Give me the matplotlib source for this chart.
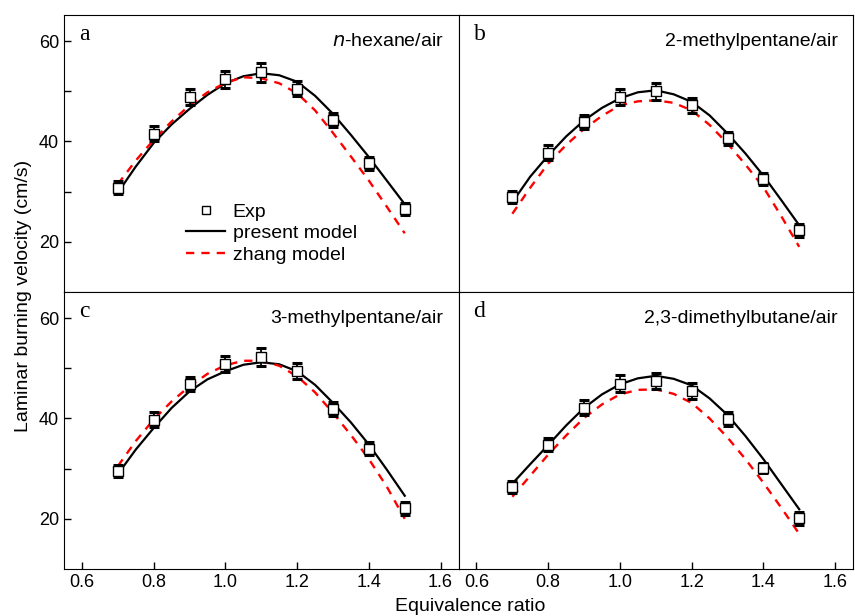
import numpy as np
import matplotlib
matplotlib.use("Agg")
import matplotlib.pyplot as plt

plt.rcParams['font.family'] = ['Liberation Sans', 'DejaVu Sans']

# experimental points
phi_exp = [0.7, 0.8, 0.9, 1.0, 1.1, 1.2, 1.3, 1.4, 1.5]
exp_a = [30.8, 41.5, 48.8, 52.4, 53.8, 50.5, 44.2, 35.7, 26.5]
exp_b = [28.9, 37.8, 43.9, 48.8, 50.0, 47.2, 40.6, 32.6, 22.3]
exp_c = [29.5, 39.7, 46.8, 50.9, 52.3, 49.4, 41.8, 34.0, 22.1]
exp_d = [26.4, 34.8, 42.1, 46.9, 47.4, 45.4, 39.8, 30.2, 20.1]
err_a = [1.3, 1.5, 1.6, 1.7, 1.9, 1.5, 1.4, 1.3, 1.2]
err_b = [1.2, 1.4, 1.4, 1.6, 1.7, 1.5, 1.3, 1.2, 1.3]
err_c = [1.2, 1.5, 1.4, 1.6, 1.8, 1.6, 1.4, 1.3, 1.3]
err_d = [1.2, 1.3, 1.5, 1.7, 1.6, 1.6, 1.4, 1.0, 1.3]

# model curves
phi_mod = [0.7, 0.75, 0.8, 0.85, 0.9, 0.95, 1.0, 1.05, 1.1, 1.15, 1.2, 1.25, 1.3, 1.35, 1.4, 1.45, 1.5]
present_a = [29.8, 35.0, 39.7, 43.4, 46.5, 49.3, 51.6, 53.0, 53.6, 53.2, 51.9, 49.1, 45.5, 41.3, 36.9, 32.2, 27.5]
zhang_a = [31.5, 36.2, 40.3, 44.0, 47.2, 49.8, 51.7, 52.8, 52.6, 51.6, 49.6, 46.2, 41.7, 37.0, 32.2, 27.0, 21.7]
present_b = [27.9, 33.0, 37.2, 41.0, 44.2, 46.7, 48.6, 49.8, 50.2, 49.4, 47.9, 45.2, 41.6, 37.6, 33.2, 28.3, 23.3]
zhang_b = [25.6, 30.8, 35.6, 39.3, 42.5, 45.1, 47.2, 48.0, 48.2, 47.7, 46.2, 43.3, 39.6, 35.4, 30.9, 25.1, 19.0]
present_c = [28.9, 33.8, 38.1, 42.1, 45.4, 47.8, 49.4, 50.7, 51.2, 50.8, 49.4, 46.7, 43.1, 39.2, 34.8, 29.8, 24.6]
zhang_c = [30.5, 35.5, 39.8, 43.4, 46.4, 48.9, 50.6, 51.5, 51.5, 50.5, 48.4, 45.2, 41.1, 36.7, 31.9, 26.4, 20.0]
present_d = [27.0, 30.9, 34.7, 38.6, 42.1, 44.8, 46.8, 48.0, 48.5, 47.9, 46.6, 44.0, 40.7, 36.5, 31.9, 26.9, 21.9]
zhang_d = [24.4, 28.6, 32.8, 36.6, 40.1, 42.8, 44.8, 45.7, 45.8, 44.9, 43.1, 40.0, 36.2, 31.9, 27.2, 22.2, 17.0]

panels = [
    ("a", "$n$-hexane/air", exp_a, err_a, present_a, zhang_a),
    ("b", "2-methylpentane/air", exp_b, err_b, present_b, zhang_b),
    ("c", "3-methylpentane/air", exp_c, err_c, present_c, zhang_c),
    ("d", "2,3-dimethylbutane/air", exp_d, err_d, present_d, zhang_d),
]

fig, axes = plt.subplots(2, 2, figsize=(8.55, 6.16), dpi=100)
fig.subplots_adjust(left=0.0749, right=0.9977, top=0.9756, bottom=0.0763,
                    wspace=0, hspace=0)

for i, (ax, (letter, name, ex, er, pres, zh)) in enumerate(zip(axes.flat, panels)):
    row, col = divmod(i, 2)
    ax.errorbar(phi_exp, ex, yerr=er, fmt='none', ecolor='black',
                elinewidth=1.3, capsize=3.5, capthick=2.2, zorder=3)
    ax.plot(phi_mod, pres, color='black', lw=1.6, zorder=2, label='present model')
    ax.plot(phi_mod, zh, color='red', lw=1.7, ls=(0, (3.5, 3)), zorder=2, label='zhang model')
    ax.plot(phi_exp, ex, 's', ms=7.5, mfc='white', mec='black', mew=1.0,
            ls='none', zorder=4, label='Exp')

    ax.set_xlim(0.55, 1.65)
    ax.set_ylim(10, 65.2)
    ax.set_xticks([0.6, 0.8, 1.0, 1.2, 1.4, 1.6])
    ax.set_yticks([20, 40, 60])
    ax.set_yticks([30, 50], minor=True)
    ax.tick_params(direction='in', length=5, width=1, labelsize=13)
    ax.tick_params(which='minor', direction='in', length=5, width=1)
    ax.tick_params(axis='y', which='both', left=(col == 0), labelleft=(col == 0))
    ax.tick_params(axis='x', which='both', bottom=(row == 1), labelbottom=(row == 1))
    if col == 1:
        ax.yaxis.set_minor_locator(plt.NullLocator())
    ax.xaxis.set_major_formatter(plt.FormatStrFormatter('%.1f'))

    ax.text(0.038, 0.93, letter, transform=ax.transAxes, fontsize=17,
            family='Liberation Serif', ha='left', va='center')
    ax.text(0.962, 0.905, name, transform=ax.transAxes, fontsize=14,
            ha='right', va='center')

h, l = axes[0, 0].get_legend_handles_labels()
order = [2, 0, 1]
axes[0, 0].legend([h[k] for k in order], [l[k] for k in order],
                  loc='upper left', bbox_to_anchor=(0.275, 0.37), frameon=False,
                  fontsize=14, handlelength=2.0, handletextpad=0.4,
                  labelspacing=0.2, borderpad=0.2, markerscale=0.85)

fig.text(24 / 855, 0.519, 'Laminar burning velocity (cm/s)', rotation=90,
         ha='center', va='center', fontsize=14)
fig.text(470 / 855, 0.016, 'Equivalence ratio', ha='center', va='center',
         fontsize=14)

fig.savefig('out.png', dpi=100)
